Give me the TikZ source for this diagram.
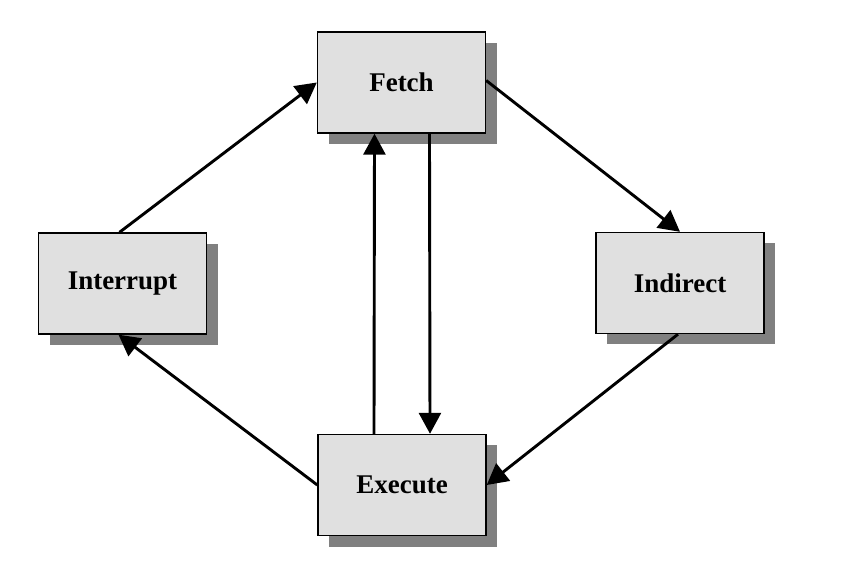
\documentclass[tikz,border=0pt]{standalone}
\usepackage{fontspec}
\setmainfont{Liberation Serif}
\usetikzlibrary{arrows.meta,shadows}
\begin{document}
\begin{tikzpicture}[x=1pt,y=-1pt,
  stage/.style={draw=black, line width=1.4pt, fill=boxfill, minimum width=168pt, minimum height=101pt,
    inner sep=0pt, font=\fontsize{27}{30}\selectfont\bfseries,
    drop shadow={shadow xshift=11pt, shadow yshift=-11pt, fill=shadowgray, opacity=1}},
  flow/.style={line width=2.9pt, -{Triangle[length=21pt,width=22pt]}}]
\definecolor{boxfill}{HTML}{E0E0E0}
\definecolor{shadowgray}{HTML}{808080}
\useasboundingbox (0,0) rectangle (847,561);
\node[stage] (fetch) at (401.5,82.5) {Fetch};
\node[stage] (interrupt) at (122.5,283.5) {Interrupt};
\node[stage] (indirect) at (680,283) {Indirect};
\node[stage] (execute) at (402,485) {Execute};
\draw[flow] ([xshift=-3pt]interrupt.north) -- (fetch.west);
\draw[flow] ([yshift=2pt]fetch.east) -- (indirect.north);
\draw[flow] ([xshift=-2pt]indirect.south) -- (execute.east);
\draw[flow] (execute.west) -- ([xshift=-4pt]interrupt.south);
\draw[flow] ([xshift=-28pt]execute.north) -- ([xshift=-27pt]fetch.south);
\draw[flow] ([xshift=28pt]fetch.south) -- ([xshift=28pt]execute.north);
\end{tikzpicture}
\end{document}
